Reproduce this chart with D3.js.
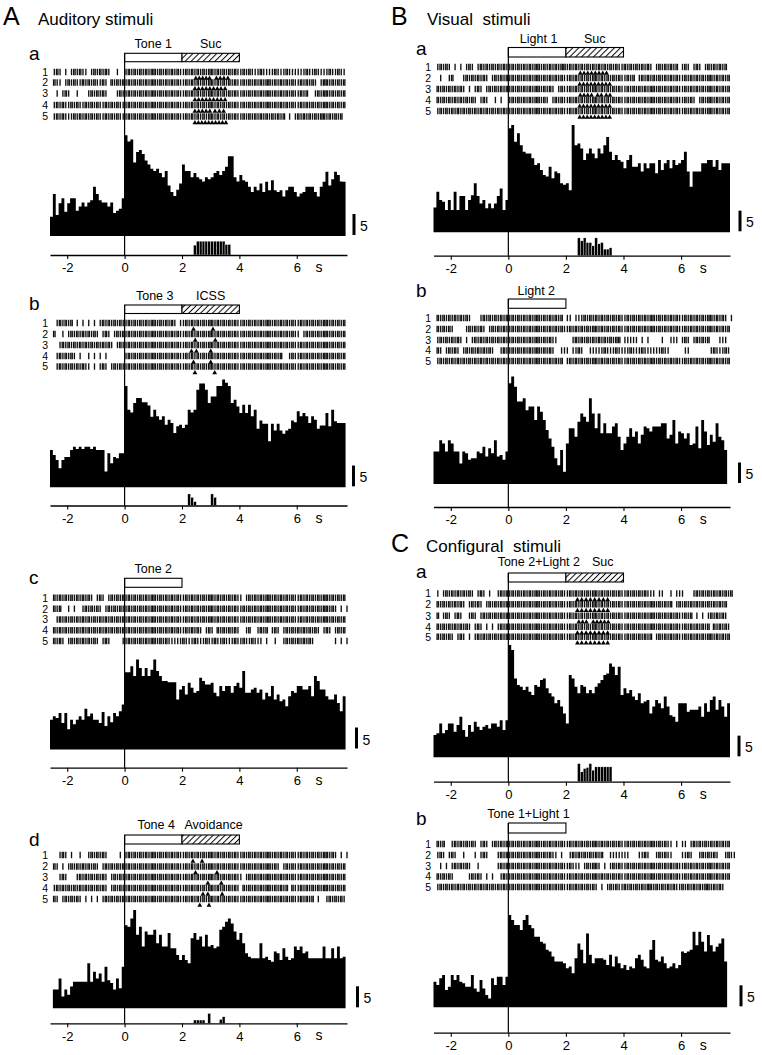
<!DOCTYPE html>
<html>
<head>
<meta charset="utf-8">
<script src="https://cdn.jsdelivr.net/npm/d3@7"></script>
<style>
body { margin: 0; background: #fff; }
text { font-family: "Liberation Sans", Arial, Helvetica, sans-serif; fill: #000; }
</style>
</head>
<body>
<script>
// ---- data ----
const timeTicks = [-2, 0, 2, 4, 6];
const rowNames = ["1", "2", "3", "4", "5"];
const binSize = 0.1;
const rasterFrom = -2.5;

// peri-stimulus histograms (counts per 0.1 s bin, scale bar = 5)
const histAa = [4.6, 10, 5, 7.8, 9, 5.8, 7.8, 9, 9, 6, 7, 8, 7, 8, 8.5, 11.7, 10, 8.5, 8, 8, 7, 8, 5.5, 6, 6.5, 9,
  24, 22.5, 23, 17.5, 20, 20.5, 19.5, 18, 17, 16,
  15.5, 16, 15, 14, 15.5, 12, 10.5, 9.5, 11, 12.5,
  17, 15.5, 15.5, 14, 15, 14, 13.5, 13, 14, 13.5,
  14, 15, 15.5, 14.5, 15.5, 16.5, 19, 19, 14, 13,
  14.5, 13.3, 12.9, 11.7, 10.5, 11.7, 10.9, 12.5, 10.5, 12.9,
  10.9, 13.3, 10.9, 10.5, 10.9, 9.4, 10.9, 11.7, 11.7, 10.5,
  9.4, 10.1, 10.5, 11.7, 11.7, 11.7, 10.5, 9.4, 11.7, 12.9,
  15.3, 12, 13.5, 15.3, 14.5, 13, 12.9];
const histAb = [9, 7.8, 6.6, 4.6, 6.6, 7.3, 7.3, 9, 9.8, 9.2, 9.8, 9.2, 9.8, 9.8, 9.2, 9.8, 9, 9, 9, 3.8, 8.2, 5.8, 7.3, 7, 8.2, 8.2,
  24.4, 18.7, 18, 20.3, 21.5, 21.5, 20.5, 20.5, 19.7, 17,
  18.7, 17.1, 16.3, 17.1, 15.1, 16.3, 15.5, 13.1, 14.7, 15.1,
  14.3, 15.1, 18.7, 18, 18.7, 23.5, 25, 25, 23.5, 20.3,
  21.9, 21.9, 24.4, 24.4, 26, 25.2, 24.4, 20.3, 21.1, 19.5,
  17.9, 19.9, 17.9, 19.9, 17.1, 18.7, 14.1, 16.1, 15.3, 15.3,
  11.1, 15.3, 13.7, 15.3, 13.7, 12.9, 13.7, 14.1, 16.1, 15.7,
  18.3, 17.1, 17.9, 17.1, 15.5, 17.1, 16.3, 14.1, 14.9, 14.9,
  17.9, 14.7, 18.7, 15.9, 15.5, 15.5, 15.5];
const histAc = [7.1, 7.9, 7.5, 8.7, 6.3, 8.7, 4.8, 7.1, 6, 7.1, 7.9, 7.1, 9.7, 7.9, 8.6, 7.1, 7.1, 6.3, 8.9, 5.6, 7.9, 6.5, 8.7, 7.9, 9.1, 10.7,
  18.4, 18.4, 19.8, 17.5, 21.4, 19.4, 17.5, 19.4, 17.5, 19,
  21.4, 18.7, 17.5, 16.3, 16.3, 16, 16, 16, 11.9, 14.3,
  15.1, 13.1, 15.9, 14.7, 13.5, 13.9, 17.1, 16.3, 15.5, 15.5,
  15.9, 13.5, 12.7, 15.1, 13.9, 15.1, 15.1, 13.5, 15.1, 15.9,
  14.7, 18.7, 13.5, 13.5, 14.3, 14.7, 13.5, 14.3, 11.9, 13.5,
  12.7, 15.1, 11.9, 13.1, 11.5, 11.9, 10.3, 12.7, 13.9, 13.5,
  15.1, 15.1, 14.3, 14.3, 15.1, 12.7, 17.5, 16.3, 14.3, 14.3,
  12.7, 11.9, 11.9, 13.1, 11.1, 9.1, 12.7];
const histAd = [4.5, 4.5, 7.1, 2.8, 4.5, 3.2, 5.2, 6.3, 6.3, 6.3, 6.3, 6.3, 10.7, 6.3, 8.7, 7.1, 8.3, 6.3, 9.9, 6.7, 6, 4.5, 7.1, 4.8, 9.9,
  19.8, 19.4, 21.4, 23.4, 17.5, 19.4, 14.7, 18.3, 17.5, 17.5,
  18.7, 15.5, 17.5, 14.7, 14.7, 17.9, 14.3, 14.3, 12.7, 11.5,
  12.7, 11.5, 10.7, 16.7, 17.9, 16.3, 17.1, 14.7, 17.5, 14.7,
  15.1, 14.3, 14.7, 18.7, 19.4, 20.6, 21.4, 20.2, 18.3, 16.3,
  17.9, 15.5, 13.1, 12.3, 11.9, 11.9, 11.9, 15.5, 11.9, 12.3,
  11.5, 11.1, 13.5, 13.1, 11.5, 14.3, 12.3, 11.5, 11.9, 14.7,
  13.9, 14.7, 13.1, 13.5, 11.9, 11.9, 11.9, 11.9, 11.9, 14.7,
  11.9, 11.9, 14.3, 11.9, 14.7, 11.9, 12.3];
const histBa = [6, 9.8, 7.8, 7.4, 5.4, 7.8, 5.4, 9.8, 5.4, 8.8, 8.8, 5.4, 7.8, 9, 11.9, 8.8, 7, 7.8, 5.8, 7, 5.8, 7, 8.8, 10.6, 5.4, 7.8,
  25.2, 26, 21.9, 24, 21.1, 19.5, 19.1, 19.1, 17.9, 16.3,
  16.7, 15.1, 13.9, 13.5, 15.9, 13.1, 14.7, 14.3, 11.9, 11.5,
  11.9, 10.2, 26, 21.1, 21.5, 20.3, 17.5, 19.1, 20.3, 19.1,
  17.9, 20.3, 19.1, 21.1, 23.1, 19.5, 17.5, 18.7, 17.5, 17.1,
  15.5, 17.5, 18.7, 15.9, 15.9, 16.7, 14.7, 16.7, 15.5, 16.7,
  16.7, 14.3, 17.5, 15.1, 16.7, 17.5, 15.5, 17.5, 16.3, 16.7,
  17.5, 19.5, 14.7, 11, 14.7, 14.7, 14.7, 16.7, 16.7, 17.5,
  17.5, 15.9, 17.5, 15.1, 16.7, 16.7, 16.7];
const histBb = [7.9, 7.9, 10.7, 9.9, 7.9, 10.7, 9.9, 7.9, 7.9, 5, 7.9, 7.5, 5.9, 6.3, 6.3, 7.9, 7.5, 9.1, 6.7, 8.7, 7.5, 10.7, 6.7, 7.1, 5.9, 7.9,
  24.6, 26.2, 23.7, 20.1, 20.1, 20.9, 18, 18.9, 18.9, 15.6,
  18.9, 17.6, 15.6, 13.2, 11.1, 9.1, 6.3, 4.6, 8.3, 3,
  9.9, 13.6, 13.6, 11.5, 15.2, 17.2, 16.4, 15.2, 20.9, 17.2,
  13.6, 17.2, 12.4, 14.8, 12.4, 12.4, 14, 14.8, 11.5, 8.3,
  9.9, 11.5, 13.6, 11.5, 12.8, 9.9, 12, 14, 13.6, 12.8,
  14, 14, 14, 14.8, 14.8, 11.1, 12, 15.6, 9.9, 12.8,
  12.4, 11.1, 12.4, 9.5, 9.9, 14, 8.7, 15.6, 12.8, 9.5,
  12, 10.3, 14.8, 11.5, 10.7, 8.3];
const histCa = [5.4, 5.8, 8.2, 5.8, 6.6, 8.2, 8.2, 6.2, 7.8, 9.8, 6.6, 5, 7.8, 6.2, 8.6, 7.4, 6.6, 7.4, 7.8, 7, 8.2, 8.2, 7.4, 9, 6.6, 9,
  27.2, 26, 19.1, 17.5, 17.1, 16.3, 17.1, 15.9, 15.1, 17.5,
  17.1, 18.7, 19.1, 16.7, 15.5, 14.7, 13.1, 13.9, 12.3, 10.6,
  8.2, 19.9, 19.1, 17.1, 15.5, 17.5, 17.1, 15.5, 16.3, 15.5,
  17.1, 17.9, 18.7, 19.9, 20.3, 22.7, 21.9, 19.9, 21.9, 15.1,
  16.7, 15.5, 16.3, 14.7, 13.9, 15.5, 13.1, 13.5, 13.9, 10.6,
  12.3, 13.9, 13.1, 11.9, 14.7, 12.3, 10.2, 9.8, 8.6, 13.1,
  13.1, 13.1, 11, 11.5, 11.5, 11.5, 12.3, 9.8, 13.1, 11,
  13.9, 14.7, 11.5, 13.9, 12.3, 9.8, 13.1];
const histCb = [6.1, 5.3, 6.9, 7.7, 4.1, 4.9, 7.7, 6.5, 7.7, 6.1, 5.7, 4.9, 4.9, 7.7, 4.5, 3.7, 6.5, 4.5, 2.9, 2.1, 6.9, 5.3, 7.3, 7.3, 5.3, 7.3,
  22, 20.8, 19.6, 19.6, 18.4, 20.8, 22, 19.6, 18.8, 16.8,
  16.8, 15.6, 15.2, 13.7, 13.3, 12.1, 10.9, 10.9, 10.9, 10.5,
  9.3, 9.7, 8.1, 11.7, 15.2, 13.7, 10.5, 17.6, 12.5, 10.5,
  11.7, 11.7, 11.7, 11.3, 10.1, 12.5, 9.7, 12.1, 10.5, 9.3,
  10.1, 8.9, 9.7, 9.3, 11.7, 12.5, 11.3, 9.7, 9.3, 13.7,
  16, 11.3, 10.9, 12.1, 10.5, 9.3, 9.7, 10.5, 9.3, 10.1,
  13.3, 12.9, 13.3, 13.7, 18, 14.8, 18, 15.6, 13.3, 17.2,
  14.8, 13.3, 14.4, 15.2, 16.4, 10.9];
const histStarts = { Aa: -2.6, Ab: -2.6, Ac: -2.6, Ad: -2.5, Ba: -2.6, Bb: -2.6, Ca: -2.6, Cb: -2.6 };

// lick / response histograms under the PSTH (start time, counts per bin)
const lickAa = { start: 2.4, counts: [3, 4.2, 4.2, 4.2, 4.2, 4.2, 4.2, 4.2, 4.2, 4.2, 4.2, 3.2, 3.2] };
const lickAb = { start: 2.2, counts: [3.5, 2.5, 1.2, 0, 0, 0, 0, 0, 3.5, 2.5] };
const lickAd = { start: 2.4, counts: [1, 1, 1, 1, 0, 3, 0, 0, 0, 1.2, 2] };
const lickBa = { start: 2.4, counts: [5.4, 4.5, 5.4, 4, 4, 3, 5.4, 3.6, 4, 2, 2, 2.4] };
const lickCa = { start: 2.4, counts: [5.5, 3, 4, 4.3, 5.5, 3.5, 4.5, 4.5, 4.5, 4.5, 4.5, 4.5] };

// raster rows: [before 0, from 0] one char per 0.1 s, "|" one spike, ":" two spikes
const rasterAa = [
  ["|:| | |:|:|| |:|:|:|  |  ", "|:|:|:|:|::|:|:|:|:||:|:|:|:|::|:|:|:|:||:|:|||:||||:|||:||||||:||:||||:||:||"],
  ["|:|| |:|:||:|:|:||:| :|:|:", "|:|:|:|:|::|:|:|:|:||:|:|:|:|::|:|:|:|:||:|:|:|:|::|:|:|:|:||:|:|:| |::|:|:|:"],
  [" | |:|  |   |:|:|:|   |:|", "|:|:|:|:|::|:|:|:|:||:|:|:|:|::|:|:|:|:||:|:|:|:|::|:|:|:|:||:|:  |:|::|:|:|:"],
  ["|:|:||:|:||:|:|:||:|:|:||", "|:|:|:|:|::|:|:|:|:||:|:|:|:|::|:|:|:|:||:|:|:|:|::|:|:|:|:||:|:|:|:|::|:|:|:"],
  ["|:|:|||:|:|:|:|:||:|:|:||", "|:|:|:|:|::|:|:|:|:||:|:|:|:|::|:|:|:|:||:|:|:|:|:|:|:|: | |:|:|:|:|::|:|:|:"]
];
const rasterAb = [
  ["| |:|:|: | | | | |:|:|:|:|", "|:|:|:|:|::|:|:|:| ||:|:|:|:|::|:|:|:|:||:|:|:|:|::|:|:|:|:||:|:|:|:|::|:|:|:"],
  ["|:  | |:|:|:|:|:| |:| |:|:", "|:|:|:|:|::|:|:|:|:||:|:|:|:|::|:|:|:|:||:|:|:|:|::|:|:|:|:|| |:|:|:|::|:|:|:"],
  ["|  |:|:|:|:|:|:|:|:|:| |:|", "|:|:|:|:|::|:|:|:|:||:|:|:|:|::|:|:|:|:||:|:|:|:|::|:|:|:|:||:|:|:|:|::|:|:|:"],
  ["| |:|:|:| |  | | | |      ", "|:|:|:|:|::|:|:|:|:||:|:|:|:|::|:|:|:|:||:|:|:|:|::|:|:  |:||:|:|:|:|::|:|:|:"],
  ["| |:|:|:|:|:|| | |:| |:|:|", "|:|:|:|:|::|:|:|:|:||:|:|:|:|::|:|:|:|:||:|:|:|:|::|:|:|:|:||:|:|:|:|::|:|:|:"]
];
const rasterAc = [
  ["|:|:|:|:|:|:|:| |:| |:|:|:", "|:|:|:|:|::|:|:|:|:||:|:|:|:|::|:|:|:|:|| |:|:|:|::|:|:|:|:||:|:|:|:|::|:|:|:"],
  ["|:|:  | |  |:|:|:| |:|:|:|", "|:|:|:|:|::|:|:|:|:||:|:|:|:|::|:|:|:|:||:|:|:|:|::|:|:|:|:||:|:|:|:|::|:| | |"],
  ["| |:|:|:|:|:|:|:|:|:|:|:|:", "|:|:|:|:|::|:|:|:|:||:|:|:|:|::|:|:|:|:||:|:|:|:|::|:|:|:|:||:|:|:|:|::|:|:|:"],
  ["|:|:|:|:|:|:|:|:|:|:|:|:|:", "|:|:|:|:|::|:|:|:|:||:|:|:| |:| :|:|:|:|  |:  |:|: |:| |:|:|:|:|:|:| |:| |:|:"],
  ["|:|:| |:|:|:|:|:| |:|    |", "|:|:|:|:|::|:|:|||||:|||:|||:||:||:|||:||:||:||| |  |  |:|:|:|:|:|       | | |"]
];
const rasterAd = [
  ["  |:| |  |  |:|:|:|    | ", "|:|:|:|:|::|:|:|:|:||:|:|:|:|::|:|:|:|:||:|:|:|:|::|:|:|:|:||:|:|:|:|::|:| | |"],
  ["|:| | |:|:|:|:|:| |:|:|:|:", "|:|:|:|:|::|:|:|:|:||:|:|:|:|::|:|:|:|:||:|:|:|:|::|:| |:|:||:|:|:|:|::|:|:|:"],
  ["|  |:|   |:|:|:|:|:| |:|:|", "|:|:|:|:|::|:|:|:|:||:|:|:|:|::|:|:|:|:|| |:|:|:|::|:|:|:|:||:|:|:|:|::|:|:|:"],
  ["|:|:|:|:|:|:|:|:|:|:| |:|:|", "|:|:|:|:|::|:|:|:|:||:|:|:|:|::|:|:|:|:| :|:|:|:|::|:|:|: :||:|:|:|:|::|:|:|:"],
  ["|:| |:|:|:| | | | |:|:|:|:", "|:|:|:|:|::|:|:|:|:||:|:|:|:|::|:|:|:|:||:|:|:|:|::|:|:|:|:||:|:|: |  |:|:|:|"]
];
const rasterBa = [
  ["|:|:| | | |:| |:|:|:|:|:|", "|:|:|:|:|::|:|:|:|::|:|:|:|:|:|:|:|:|:||:|:|:|:|:| |:|:|:|: |:| |:| |:|:|:|:"],
  ["| |  |:   |:|:|:|:| |:|:|:", "|:|:|:|:|::|:|:|:|:||:|:|:|:|::|:|:|:|:||:|: |:|:|:|:|:|:|:||:|:|:|:|::|:|:|:"],
  ["|:|:|:|:|:| | |:| |:|:|:|:", "|:|:|:|:|::|:|:| |:||:|:|:|:|::|:|:|:|:||:|:|:|:|::|:|:|:|:||:|:|:|:|::|:|:|:"],
  ["|:|:|:|:|:|:|:| |:|  | |  ", "|:|:|:|:|::|:| |:|:||:|:|:|:|::|:|:|:|:||:|:|:|:|::|:|:|:|:||:|:| |:|::|:|:|:"],
  ["| |:|:|:|:|:|:|:|:|:|:|:|:|", "|:|:|:|:|::|:|:|:|:||:|:|:|:|::|:|:|:|:||:|:|:|:|::|:|:|:|:||:|:|:|:|::|:|:|:"]
];
const rasterBb = [
  ["|:|:|:|:|:|:|   |:|:|:|:|:", "|:|:|:|:|::|:|:|:|: || |||:|:|:|:|:|:|:||:|:|:|:|::|:|:|:|:||:|:|:|:|::|:|:| |"],
  ["|:|:|:|    |:|:|:| |:|:|:|", "|:|:|:|:|::|:|:|:|:||:|:|:|:|::|:|:|:|:||:|:|:|:|::|:|:|:|:||:|:|:|:|::|:|:|:"],
  ["|:|:|:|:|:| | |:|:|:|:|:|:|", "|:|:|:|:|::|:|:||     |:|:|:|:|:|:|:|:: ||||| | |    |  ||| |:| |:|:|:   ||| "],
  ["|:| |:|:| |:|:|:|:|:|  |:|", "|:|:|:|:|::|:|:|  ||| ||:|  |||||:|||:||||:|||:||||||:||     ||       |:|||:|"],
  ["|:|:|:|:|:|:|:|:|:|:|:|:|:|", "|:|:|:|:|::|:|:|:|: |:|:|:|:|::|:|:|:|:||:|:|:|:|::|:|:|:|:||:|:|:|:|::|:|:|:"]
];
const rasterCa = [
  ["| |:|:|:|:|:| |:| |  |:|:", "|:|:|:|:|::|:|:|:|:||:|:|:|:|::|:|:|:|:||:|:|:|:||| ||  | |||   |:|:|:|:|:|:|:"],
  ["|:|:|:|:|:| |:|:| |:|:|:|:", "|:|:|:|:|::|:|:|:|:||:|:|:|:|::|:|:|:|:||:|:|:|:|::|:|:|: |:|:|:|:|:|:|:|:|: "],
  ["|: |:| |:|  |:| |:|:|:|:|:", "|:|:|:|:|::|:|:|:|:||:|:|:|:|::|:|:|:|:||:|:|:|:|::|:|:|:|:||:|: | | |:|:|:| "],
  ["|:|:|:|:|:|:| |:| | | |:|:", "|:|:|:|:|::|:|:|:|:||:|:|:|:|::|:|:|:|:||:|:|:|:|::|:|:|:|:||:|:|:|:|: :|:|:|"],
  ["|:|:|:| |:| | |:|:|:|:|:|:", "|:|:|:|:|::|:|:|:|:||:|:|:|:|::|:|:|:|:||:|:|:|:|: |:|:|:|:||:|:|:|:|::|:|:|:"]
];
const rasterCb = [
  ["|:|:  |:|:|:|:| |:| |:|:|:", "|:|:|:|:|::|:|:|:|:||:|:|:|:|::|:|:|:|:||:|:|:|:|::|:|:|| | || |:|:|:|:|:|:|:"],
  ["| |:| |:|  |   | |:|   |:|:", "|:|:|:|:|::|:|:|| |  |:|:|:|:|:|:  |||||||   ||:|  |:|:||   ||:|  |:|:|:|  |:||"],
  ["| | | |:|:|:|  |      |:|:", "|:|:|:|:|::|:|:|:|:||:||| |:|::| | |:|:||:|:|:|:|::|:|:|:|:||:|:|:|:|::|:|:|:"],
  ["|:|:|:|     |:|:| | |  |:|", "|:|:|:|:|::|:|:|:|:||:|:|:|:|::|:|:|:|:||:|:|:|:|::|:|:|:|:||:|:|:|:|::|:|:|:"],
  ["|:|:|:|:|:|:|:|:|:|:|:|:|:|", "|:|:|:|:|::|:|:|:|:||:|:|:|:|:| | |:|:||:|:|:|:|::|:|:|:|:||:|:|:|:|::|:|:| "]
];

// licks marked under each raster row (s)
const marksAa = [
  [2.48, 2.6, 2.72, 2.84, 2.96, 3.2, 3.33, 3.46, 3.6],
  [2.45, 2.58, 2.71, 2.84, 2.97, 3.1, 3.23, 3.36, 3.5],
  [2.45, 2.58, 2.71, 2.84, 2.97, 3.1, 3.23, 3.36, 3.5],
  [2.45, 2.58, 2.71, 2.84, 2.97, 3.15, 3.3, 3.45],
  [2.45, 2.57, 2.69, 2.81, 2.93, 3.05, 3.17, 3.29, 3.41, 3.53]
];
const marksAb = [[2.4, 3.08], [2.46, 3.16], [2.33, 2.5, 3.0], [2.4, 3.0], [2.45, 3.14]];
const marksAd = [[2.38, 2.7], [2.47, 3.22], [2.9, 3.37], [2.73, 2.9, 3.4], [2.62, 2.94]];
const marksBa = [
  [2.5, 2.63, 2.76, 2.89, 3.02, 3.15, 3.28, 3.41],
  [2.48, 2.61, 2.74, 2.87, 3.0, 3.13, 3.26, 3.39, 3.52],
  [2.5, 2.63, 2.76, 2.89, 3.1, 3.23, 3.4, 3.53],
  [2.48, 2.61, 2.74, 2.87, 3.0, 3.13, 3.26, 3.39, 3.52],
  [2.48, 2.61, 2.74, 2.87, 3.0, 3.13, 3.26, 3.39, 3.52]
];
const marksCa = [
  [2.4, 2.55, 2.7, 2.85, 3.0, 3.15, 3.3, 3.45],
  [2.4, 2.55, 2.7, 2.85, 3.0, 3.15, 3.3, 3.45],
  [2.45, 2.58, 2.71, 2.95, 3.08, 3.21, 3.34, 3.47],
  [2.4, 2.55, 2.7, 2.85, 3.0, 3.15, 3.3, 3.45],
  [2.4, 2.55, 2.7, 2.85, 3.0, 3.15, 3.3, 3.45]
];

// stimulus labels over the bars (name, time it is centred on)
const stimAa = [{ name: "Tone 1", at: 1.0 }, { name: "Suc", at: 3.0 }];
const stimAb = [{ name: "Tone 3", at: 1.05 }, { name: "ICSS", at: 3.0 }];
const stimAc = [{ name: "Tone 2", at: 1.0 }];
const stimAd = [{ name: "Tone 4", at: 1.1 }, { name: "Avoidance", at: 3.1 }];
const stimBa = [{ name: "Light 1", at: 1.05 }, { name: "Suc", at: 3.0 }];
const stimBb = [{ name: "Light 2", at: 0.97 }];
const stimCa = [{ name: "Tone 2+Light 2", at: 1.06 }, { name: "Suc", at: 3.28 }];
const stimCb = [{ name: "Tone 1+Light 1", at: 0.7 }];

// ---- layout ----
const W = 762, H = 1055;
const colL = { domain: [-2.6, 7.75], range: [50, 347], rowX: 48, letterX: 29 };
const colR = { domain: [-2.6, 7.7], range: [433.5, 730], rowX: 431, letterX: 416 };

const panels = [
  { col: colL, letter: "a", letterY: 60, labelY: 48, barTop: 53.3, barH: 8.4, rows: [72, 82.5, 93.5, 105, 116.5],
    base: 236, axis: 255, unit: 4.2, barX: 354, hist: histAa, start: histStarts.Aa, lick: lickAa, marks: marksAa,
    raster: rasterAa, stim: stimAa, hatched: true },
  { col: colL, letter: "b", letterY: 310, labelY: 300, barTop: 305, barH: 8.5, rows: [323, 334, 345, 356, 366.5],
    base: 487.3, axis: 505.5, unit: 4.15, barX: 353.5, hist: histAb, start: histStarts.Ab, lick: lickAb, marks: marksAb,
    raster: rasterAb, stim: stimAb, hatched: true },
  { col: colL, letter: "c", letterY: 584, labelY: 573, barTop: 578.3, barH: 9, rows: [597.7, 608.7, 619.5, 630.3, 641],
    base: 749.5, axis: 767.7, unit: 4.2, barX: 356.5, hist: histAc, start: histStarts.Ac, lick: null, marks: null,
    raster: rasterAc, stim: stimAc, hatched: false },
  { col: colL, letter: "d", letterY: 846, labelY: 829, barTop: 835, barH: 9, rows: [855, 866.5, 877, 888, 899],
    base: 1008.3, axis: 1023.3, unit: 4.2, barX: 357.5, hist: histAd, start: histStarts.Ad, lick: lickAd, marks: marksAd,
    raster: rasterAd, stim: stimAd, hatched: true },
  { col: colR, letter: "a", letterY: 55, labelY: 43, barTop: 47.5, barH: 9.5, rows: [67, 78, 89, 100, 111],
    base: 232.3, axis: 255.7, unit: 4.13, barX: 740, hist: histBa, start: histStarts.Ba, lick: lickBa, marks: marksBa,
    raster: rasterBa, stim: stimBa, hatched: true },
  { col: colR, letter: "b", letterY: 297, labelY: 294.5, barTop: 299, barH: 9.3, rows: [318, 329, 340, 350.5, 361],
    base: 484, axis: 507, unit: 4.1, barX: 739.5, hist: histBb, start: histStarts.Bb, lick: null, marks: null,
    raster: rasterBb, stim: stimBb, hatched: false },
  { col: colR, letter: "a", letterY: 578, labelY: 566, barTop: 573, barH: 9, rows: [593.5, 604.3, 615.7, 626.7, 636.7],
    base: 757.3, axis: 781.7, unit: 4.13, barX: 739, hist: histCa, start: histStarts.Ca, lick: lickCa, marks: marksCa,
    raster: rasterCa, stim: stimCa, hatched: true },
  { col: colR, letter: "b", letterY: 825, labelY: 817.5, barTop: 823, barH: 10, rows: [844, 855, 866, 876.5, 887],
    base: 1007.3, axis: 1032.7, unit: 4.2, barX: 741, hist: histCb, start: histStarts.Cb, lick: null, marks: null,
    raster: rasterCb, stim: stimCb, hatched: false }
];

const svg = d3.select("body").append("svg").attr("width", W).attr("height", H);

// diagonal hatch for the reward period
const hatch = svg.append("defs").append("pattern")
  .attr("id", "hatch").attr("patternUnits", "userSpaceOnUse")
  .attr("width", 4.2).attr("height", 4.2).attr("patternTransform", "rotate(45)");
hatch.append("rect").attr("width", 4.2).attr("height", 4.2).attr("fill", "#fff");
hatch.append("line").attr("x1", 2.1).attr("x2", 2.1).attr("y1", 0).attr("y2", 4.2)
  .attr("stroke", "#000").attr("stroke-width", 1);

// section headings
const headings = [
  { big: "A", x: 3, y: 25, sub: "Auditory stimuli", sx: 38 },
  { big: "B", x: 391, y: 25, sub: "Visual  stimuli", sx: 427 },
  { big: "C", x: 391, y: 552, sub: "Configural  stimuli", sx: 426 }
];
headings.forEach(function (h) {
  svg.append("text").attr("x", h.x).attr("y", h.y).attr("font-size", 25).text(h.big);
  svg.append("text").attr("x", h.sx).attr("y", h.y).attr("font-size", 17)
    .style("white-space", "pre").text(h.sub);
});

// turn a raster row string into spike times (s)
function spikeTimes(row) {
  var out = [];
  var pre = row[0], post = row[1];
  function put(ch, t0) {
    if (ch === "|") out.push(t0 + binSize / 2);
    else if (ch === ":") { out.push(t0 + binSize * 0.25); out.push(t0 + binSize * 0.75); }
  }
  for (var i = 0; i < pre.length; i++) put(pre[i], -(pre.length - i) * binSize);
  for (var j = 0; j < post.length; j++) put(post[j], j * binSize);
  return out.filter(function (t) { return t >= rasterFrom; });
}

function drawPanel(p) {
  var x = d3.scaleLinear().domain(p.col.domain).range(p.col.range);
  var y = d3.scaleLinear().domain([0, 5]).range([p.base, p.base - 5 * p.unit]);
  var yLick = d3.scaleLinear().domain([0, 5]).range([p.axis, p.axis - 5 * 3.3]);
  var g = svg.append("g");
  var bw = x(binSize) - x(0);

  g.append("text").attr("x", p.col.letterX).attr("y", p.letterY).attr("font-size", 19).text(p.letter);

  g.selectAll("text.stim").data(p.stim).join("text").attr("class", "stim")
    .attr("x", function (d) { return x(d.at); }).attr("y", p.labelY)
    .attr("text-anchor", "middle").attr("font-size", 12.5).text(function (d) { return d.name; });

  // PSTH as a solid step area
  var steps = p.hist.map(function (v, i) { return { t: p.start + i * binSize, v: v }; });
  steps.push({ t: p.start + p.hist.length * binSize, v: p.hist[p.hist.length - 1] });
  var area = d3.area().curve(d3.curveStepAfter)
    .x(function (d) { return x(d.t); }).y0(p.base).y1(function (d) { return y(d.v); });
  g.append("path").datum(steps).attr("d", area).attr("fill", "#000");

  // lick histogram
  if (p.lick) {
    g.append("g").selectAll("rect").data(p.lick.counts).join("rect")
      .attr("x", function (d, i) { return x(p.lick.start + i * binSize); })
      .attr("width", bw)
      .attr("y", function (d) { return yLick(d); })
      .attr("height", function (d) { return p.axis - yLick(d); })
      .attr("fill", "#000").attr("stroke", "#fff").attr("stroke-width", 0.4);
  }

  // stimulus bars
  g.append("rect").attr("x", x(0)).attr("y", p.barTop).attr("width", x(2) - x(0)).attr("height", p.barH)
    .attr("fill", "#fff").attr("stroke", "#000").attr("stroke-width", 1.1);
  if (p.hatched) {
    g.append("rect").attr("x", x(2)).attr("y", p.barTop).attr("width", x(4) - x(2)).attr("height", p.barH)
      .attr("fill", "url(#hatch)").attr("stroke", "#000").attr("stroke-width", 1.1);
  }

  // raster
  p.raster.forEach(function (row, r) {
    var ry = p.rows[r];
    g.append("g").selectAll("line").data(spikeTimes(row)).join("line")
      .attr("x1", function (d) { return x(d); }).attr("x2", function (d) { return x(d); })
      .attr("y1", ry - 3.2).attr("y2", ry + 3.2)
      .attr("stroke", "#111").attr("stroke-width", 1.35);
    g.append("text").attr("x", p.col.rowX).attr("y", ry + 3.8).attr("text-anchor", "end")
      .attr("font-size", 10.5).text(rowNames[r]);
  });

  if (p.marks) {
    p.marks.forEach(function (m, r) {
      g.append("g").selectAll("path").data(m).join("path")
        .attr("d", d3.symbol().type(d3.symbolTriangle).size(10))
        .attr("transform", function (d) { return "translate(" + x(d) + "," + (p.rows[r] + 6.3) + ")"; })
        .attr("fill", "#000");
    });
  }

  // onset line
  g.append("line").attr("x1", x(0)).attr("x2", x(0)).attr("y1", p.barTop).attr("y2", p.axis)
    .attr("stroke", "#000").attr("stroke-width", 1.2);

  // scale bar
  g.append("rect").attr("x", p.barX - 1.5).attr("y", y(5) - 1).attr("width", 3).attr("height", p.base - y(5))
    .attr("fill", "#000");
  g.append("text").attr("x", p.barX + 6).attr("y", p.base - 5).attr("font-size", 14).text("5");

  // time axis
  var ax = g.append("g").attr("transform", "translate(0," + p.axis + ")")
    .call(d3.axisBottom(x).tickValues(timeTicks).tickSize(4).tickSizeOuter(0).tickPadding(4)
      .tickFormat(function (d) { return String(d); }));
  ax.attr("font-family", null).attr("font-size", 13);
  ax.select(".domain").attr("stroke-width", 1.3);
  ax.selectAll(".tick line").attr("stroke-width", 1.1);
  g.append("text").attr("x", x(6.65)).attr("y", p.axis + 17).attr("font-size", 14).text("s");
}

panels.forEach(drawPanel);
</script>
</body>
</html>
